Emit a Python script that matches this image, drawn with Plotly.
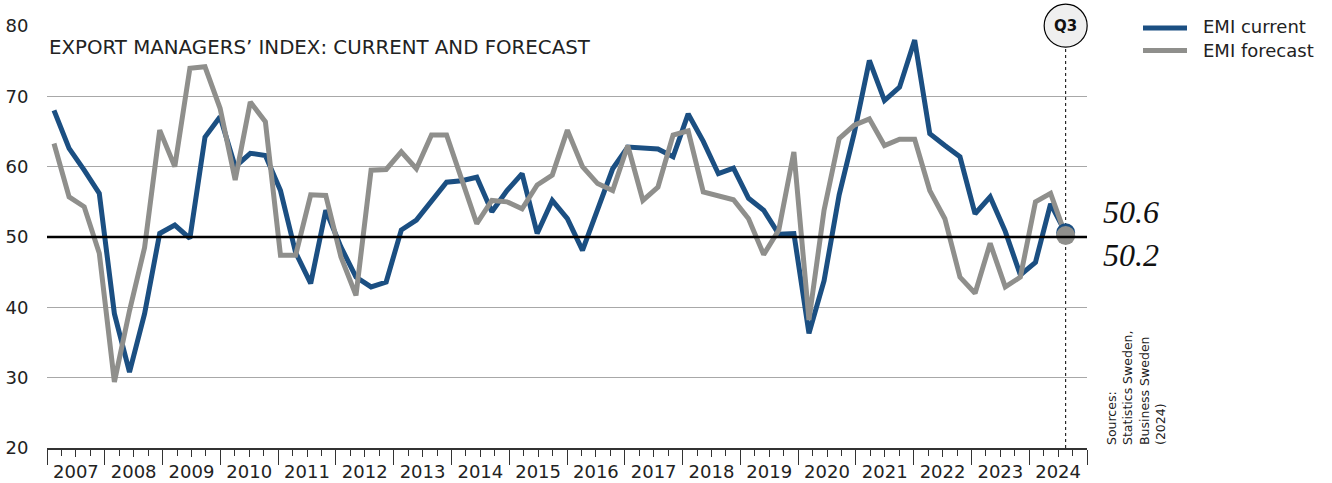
import numpy as np
import plotly.graph_objects as go

# ---------------- data ----------------
quarters = [f"{y}Q{q}" for y in range(2007, 2025) for q in range(1, 5)][3:3 + 68]
emi_current = [68.0, 62.6, 59.5, 56.2, 39.1, 30.8, 39.1, 50.5, 51.7, 49.8,
               64.2, 67.1, 60.0, 61.9, 61.6, 56.6, 47.8, 43.4, 53.8, 48.6,
               44.3, 42.9, 43.6, 51.0, 52.4, 55.0, 57.8, 58.0, 58.5, 53.6,
               56.6, 59.0, 50.5, 55.2, 52.6, 48.1, 53.8, 59.7, 62.8, 62.7,
               62.5, 61.4, 67.5, 63.6, 59.0, 59.8, 55.5, 53.8, 50.4, 50.5,
               36.3, 43.8, 56.0, 64.8, 75.1, 69.4, 71.3, 78.0, 64.7, 63.0,
               61.4, 53.3, 55.7, 50.8, 44.6, 46.4, 54.7, 50.6]
emi_forecast = [63.3, 55.7, 54.3, 47.7, 29.4, 39.5, 48.5, 65.2, 60.0, 74.0,
                74.2, 68.3, 58.1, 69.2, 66.4, 47.4, 47.4, 56.0, 55.9, 47.2,
                41.7, 59.5, 59.6, 62.1, 59.7, 64.5, 64.5, 58.2, 51.9, 55.2,
                55.0, 54.0, 57.4, 58.8, 65.2, 60.0, 57.6, 56.6, 63.0, 55.2,
                57.1, 64.5, 65.1, 56.4, 55.9, 55.3, 52.6, 47.5, 51.0, 62.1,
                38.2, 53.8, 64.0, 65.9, 66.8, 63.0, 63.9, 63.9, 56.6, 52.6,
                44.3, 42.0, 49.1, 42.9, 44.3, 55.0, 56.2, 50.2]
years = list(range(2007, 2025))
year_labels = [str(y) for y in years]
y_ticks = [20, 30, 40, 50, 60, 70, 80]

# ---------------- styling / layout ----------------
BLUE = "#1b4f82"
GREY = "#8f8f8c"
FONT = "DejaVu Sans"
TXT = "#222222"

W, H = 1332, 483
ML, MR, MT, MB = 47, 245, 26, 35
PW, PH = W - ML - MR, H - MT - MB

def px_x(px):
    return (px - ML) / PW

def px_y(py):
    return (H - MB - py) / PH

n = len(emi_current)
X_START = 2007.121
X_STEP = 0.26134
X0, X1 = 2007, 2025
xpos = X_START + np.arange(n) * X_STEP
x_last = xpos[-1]

year_bounds = list(range(2007, 2026))
year_centers = [y + 0.5 for y in years]
quarter_ticks = [y + q for y in years for q in (0.25, 0.75)]

fig = go.Figure()

fig.add_trace(go.Scatter(x=xpos, y=emi_current, mode="lines", name="EMI current",
                         line=dict(color=BLUE, width=5), cliponaxis=False,
                         text=quarters, showlegend=False))
fig.add_trace(go.Scatter(x=xpos, y=emi_forecast, mode="lines", name="EMI forecast",
                         line=dict(color=GREY, width=5), cliponaxis=False,
                         text=quarters, showlegend=False))
fig.add_trace(go.Scatter(x=[x_last], y=[emi_current[-1]], mode="markers",
                         marker=dict(color=BLUE, size=19), cliponaxis=False,
                         showlegend=False))
fig.add_trace(go.Scatter(x=[x_last], y=[emi_forecast[-1]], mode="markers",
                         marker=dict(color=GREY, size=19), cliponaxis=False,
                         showlegend=False))
# dummy trace to activate secondary x axis (quarter ticks)
fig.add_trace(go.Scatter(x=[None], y=[None], xaxis="x2", yaxis="y",
                         showlegend=False, hoverinfo="skip"))

shapes = []
# 50 reference line
shapes.append(dict(type="line", xref="paper", yref="y", x0=0, x1=1, y0=50, y1=50,
                   line=dict(color="black", width=2.5), layer="above"))
# Q3 marker: dashed line and circle (circle in paper coords so it is not clipped)
cx = (x_last - X0) / (X1 - X0)
cy = px_y(25.7)
R = 21.5
shapes.append(dict(type="line", xref="x", yref="paper", x0=x_last, x1=x_last,
                   y0=0, y1=cy - R / PH, line=dict(color="black", width=1, dash="3px,3px"),
                   layer="below"))
shapes.append(dict(type="circle", xref="paper", yref="paper",
                   x0=cx - R / PW, x1=cx + R / PW, y0=cy - R / PH, y1=cy + R / PH,
                   fillcolor="#efefef", line=dict(color="black", width=1.2), layer="above"))
# legend line samples
shapes.append(dict(type="line", xref="paper", yref="paper", x0=px_x(1143), x1=px_x(1187),
                   y0=px_y(28), y1=px_y(28), line=dict(color=BLUE, width=5)))
shapes.append(dict(type="line", xref="paper", yref="paper", x0=px_x(1143), x1=px_x(1187),
                   y0=px_y(50.5), y1=px_y(50.5), line=dict(color=GREY, width=5)))

annotations = [
    dict(text="EXPORT MANAGERS’ INDEX: CURRENT AND FORECAST", xref="paper", yref="paper",
         x=0.0, y=px_y(48), xanchor="left", yanchor="middle", showarrow=False,
         font=dict(family=FONT, size=19.8, color=TXT)),
    dict(text="<b>Q3</b>", xref="paper", yref="paper", x=cx, y=cy, showarrow=False,
         font=dict(family=FONT, size=15, color="#111"), xanchor="center", yanchor="middle"),
    dict(text="<i>50.6</i>", xref="paper", yref="paper", x=px_x(1101),
         y=px_y(212), xanchor="left", yanchor="middle", showarrow=False,
         font=dict(family="Liberation Serif", size=32, color="#111")),
    dict(text="<i>50.2</i>", xref="paper", yref="paper", x=px_x(1101),
         y=px_y(255), xanchor="left", yanchor="middle", showarrow=False,
         font=dict(family="Liberation Serif", size=32, color="#111")),
    dict(text="EMI current", xref="paper", yref="paper", x=px_x(1201),
         y=px_y(27), xanchor="left", yanchor="middle", showarrow=False,
         font=dict(family=FONT, size=18, color=TXT)),
    dict(text="EMI forecast", xref="paper", yref="paper", x=px_x(1201),
         y=px_y(50), xanchor="left", yanchor="middle", showarrow=False,
         font=dict(family=FONT, size=18, color=TXT)),
    dict(text="Sources:<br>Statistics Sweden,<br>Business Sweden<br>(2024)",
         xref="paper", yref="paper", x=px_x(1136), y=px_y(447),
         xanchor="center", yanchor="bottom", textangle=-90, align="left",
         showarrow=False, font=dict(family=FONT, size=12.5, color=TXT)),
]

fig.update_layout(
    template="none",
    width=W, height=H,
    margin=dict(l=ML, r=MR, t=MT, b=MB, autoexpand=False),
    paper_bgcolor="white", plot_bgcolor="white",
    shapes=shapes, annotations=annotations,
    xaxis=dict(range=[X0, X1], tickvals=year_centers, ticktext=year_labels,
               ticks="outside", ticklen=7, tickcolor="#333", tickwidth=1,
               showline=True, linecolor="#333", linewidth=1.5,
               showgrid=False, zeroline=False, automargin=False,
               tickfont=dict(family=FONT, size=18, color=TXT),
               minor=dict(tickvals=year_bounds, ticks="outside", ticklen=15,
                          tickcolor="#333", tickwidth=1, showgrid=False)),
    xaxis2=dict(range=[X0, X1], overlaying="x", anchor="y", side="bottom",
                tickvals=quarter_ticks, ticks="outside", ticklen=7,
                tickcolor="#333", tickwidth=1, showticklabels=False,
                showline=False, showgrid=False, zeroline=False, automargin=False),
    yaxis=dict(range=[20, 80], tickvals=y_ticks, ticks="outside", ticklen=14,
               tickcolor="rgba(0,0,0,0)", showline=False, zeroline=False,
               showgrid=True, gridcolor="#a8a8a8", gridwidth=1, automargin=False,
               tickfont=dict(family=FONT, size=18, color=TXT)),
    showlegend=False,
)

fig.write_html("out.html",
               config={"displayModeBar": False},
               post_script="document.body.style.margin='0px';document.body.style.overflow='hidden';")
